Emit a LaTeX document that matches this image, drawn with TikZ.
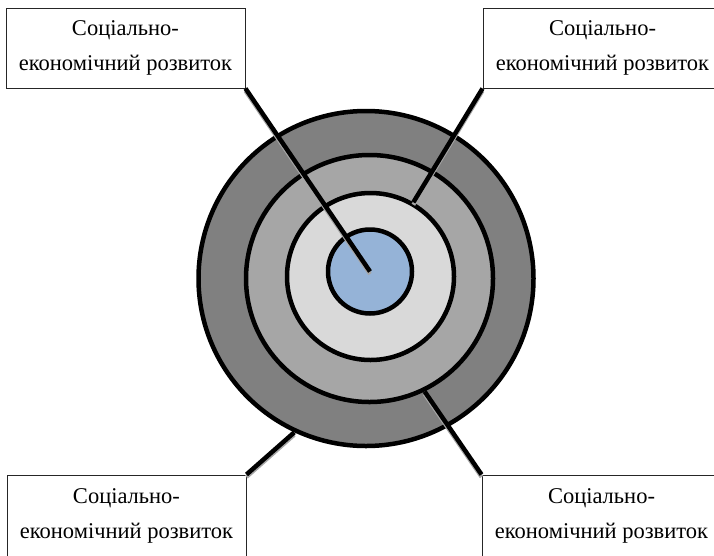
\documentclass[tikz,border=0pt]{standalone}
\usepackage{fontspec}
\setmainfont{Liberation Serif}
\definecolor{ringout}{HTML}{808080}
\definecolor{ringmid}{HTML}{A6A6A6}
\definecolor{ringin}{HTML}{D9D9D9}
\definecolor{core}{HTML}{95B3D7}
\begin{document}
\begin{tikzpicture}
  [x=1pt,y=-1pt,
   ring/.style={circle,draw=black,line width=4.5pt,inner sep=0pt},
   box/.style={draw=black!85,line width=1pt,fill=white,inner sep=0pt,
     minimum width=239pt,minimum height=80pt,align=center,
     font=\fontsize{22.5}{35}\selectfont},
   link/.style={line width=4.5pt},
   linkshade/.style={line width=4pt,draw=black!35,
     transform canvas={yshift=-2.5pt}}]
  \useasboundingbox (0,0) rectangle (714,555);

  \node[ring,fill=ringout,minimum size=335pt] (r1) at (366,278.5) {};
  \node[ring,fill=ringmid,minimum size=247pt] (r2) at (369.5,278.5) {};
  \node[ring,fill=ringin,minimum size=167pt] (r3) at (370.5,276.5) {};
  \node[ring,fill=core,minimum size=84pt] (r4) at (370,271.5) {};

  \node[box] (tl) at (125.5,48) {Соціально-\\економічний розвиток};
  \node[box] (tr) at (602.5,48) {Соціально-\\економічний розвиток};
  \node[box,minimum height=82pt] (bl) at (126.5,516) {Соціально-\\економічний розвиток};
  \node[box,minimum height=82pt] (br) at (601.5,516) {Соціально-\\економічний розвиток};

  \draw[linkshade] (tl.south east) -- (r4.center);
  \draw[linkshade] (tr.south west) -- (r3.60);
  \draw[linkshade] (bl.north east) -- (r1.-115);
  \draw[linkshade] (br.north west) -- (r2.-64);

  \draw[link] (tl.south east) -- (r4.center);
  \draw[link] (tr.south west) -- (r3.60);
  \draw[link] (bl.north east) -- (r1.-115);
  \draw[link] (br.north west) -- (r2.-64);

\end{tikzpicture}
\end{document}
